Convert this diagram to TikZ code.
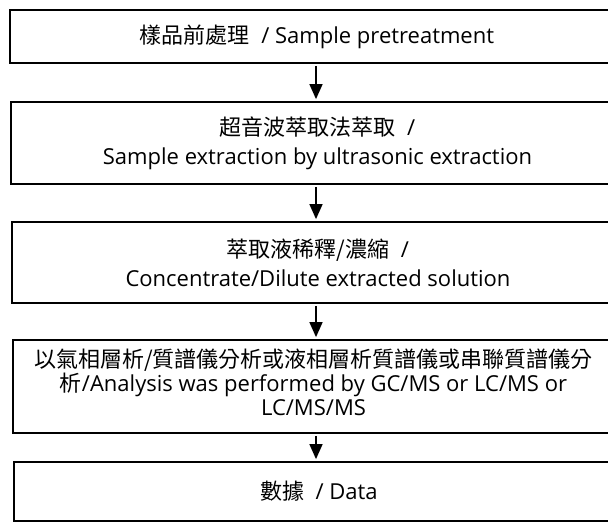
\documentclass[tikz,border=0pt]{standalone}
\usepackage{fontspec}
\setmainfont{Open Sans}
\newfontfamily\cjk{Noto Sans CJK TC}
\usetikzlibrary{arrows.meta}
\tikzset{
  txt/.style={align=center, font=\fontsize{22pt}{24pt}\selectfont},
  box/.style={draw=black, line width=1.8pt, rectangle, inner sep=0pt, txt},
  arr/.style={draw=black, line width=1.5pt, -{Triangle[width=13pt,length=15pt]},
              shorten <=2pt, shorten >=2pt}
}
\begin{document}
\begin{tikzpicture}[x=1pt,y=-1pt]
\useasboundingbox (0,0) rectangle (608,523);
\node[box, minimum width=614pt, minimum height=53pt] (b1) at (317,36.5)
  {{\cjk 樣品前處理} \ / Sample pretreatment};
\node[box, minimum width=613pt, minimum height=82pt] (b2) at (317.5,143)
  {{\cjk 超音波萃取法萃取} \ /\\[5pt] Sample extraction by ultrasonic extraction};
\node[box, minimum width=612pt, minimum height=81pt] (b3) at (318,262.5)
  {{\cjk 萃取液稀釋/濃縮} \ /\\[5pt] Concentrate/Dilute extracted solution};
\node[box, minimum width=611pt, minimum height=93pt,
  label={[txt, xshift=-5pt, yshift=4pt, name=t4]center:{\cjk 以氣相層析/質譜儀分析或液相層析質譜儀或串聯質譜儀分}\\
   {\cjk 析}/Analysis was performed by GC/MS or LC/MS or\\ LC/MS/MS}] (b4) at (318.5,386.5) {};
\node[box, minimum width=610pt, minimum height=59pt] (b5) at (319,491.5)
  {{\cjk 數據} \ / Data};
\coordinate (ax) at (316,0);
\draw[arr] (b1.south -| ax) -- (b2.north -| ax);
\draw[arr] (b2.south -| ax) -- (b3.north -| ax);
\draw[arr] (b3.south -| ax) -- (b4.north -| ax);
\draw[arr] (b4.south -| ax) -- (b5.north -| ax);
\end{tikzpicture}
\end{document}
